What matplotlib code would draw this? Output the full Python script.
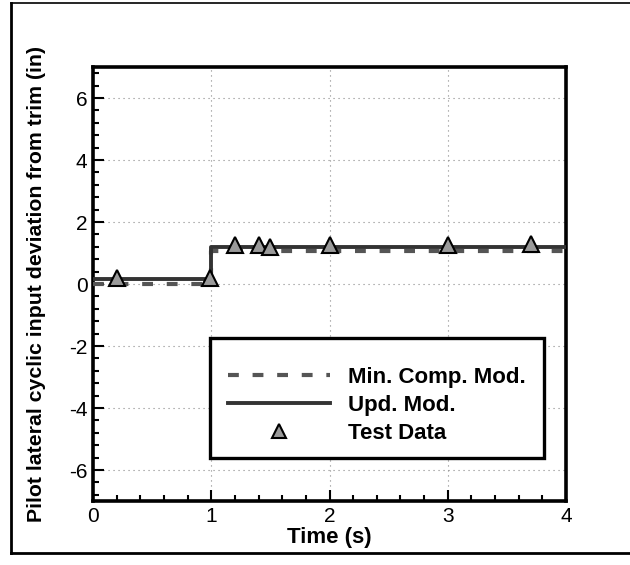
import matplotlib
matplotlib.use("Agg")
import matplotlib.pyplot as plt
from matplotlib.ticker import MultipleLocator
from matplotlib.lines import Line2D
from matplotlib.patches import Rectangle

plt.rcParams['font.family'] = ['Liberation Sans', 'DejaVu Sans']
plt.rcParams['axes.unicode_minus'] = False

# Simulated responses (step input at t = 1 s)
t_model = [0.0, 1.0, 1.0, 4.0]
min_comp = [0.0, 0.0, 1.05, 1.05]
upd_mod = [0.15, 0.15, 1.2, 1.2]

# Flight test samples
t_test = [0.2, 0.99, 1.2, 1.4, 1.5, 2.0, 3.0, 3.7]
y_test = [0.2, 0.2, 1.25, 1.25, 1.2, 1.25, 1.25, 1.3]

fig = plt.figure(figsize=(6.3, 5.65), dpi=100)
ax = fig.add_axes([93/630, 1-501/565, (566-93)/630, (501-67)/565])

ax.set_xlim(0, 4)
ax.set_ylim(-7, 7)
ax.xaxis.set_major_locator(MultipleLocator(1))
ax.xaxis.set_minor_locator(MultipleLocator(0.2))
ax.yaxis.set_major_locator(MultipleLocator(2))
ax.yaxis.set_minor_locator(MultipleLocator(0.4))
ax.tick_params(which='both', direction='in', top=False, right=False,
               labelsize=15, width=1.5)
ax.tick_params(which='major', length=8, pad=4)
ax.tick_params(which='minor', length=4)
for s in ax.spines.values():
    s.set_linewidth(2.6)

ax.grid(True, which='major', color='#888888', linestyle=(0, (1, 3.5)), lw=0.8)

dash_style = dict(color='#555555', lw=3.0, dashes=(2.6, 3.3))
solid_style = dict(color='#333333', lw=2.8)
tri_style = dict(linestyle='none', marker='^', mfc='#9a9a9a', mec='black', mew=1.5)

ax.plot(t_model, min_comp, zorder=3, **dash_style)
ax.plot(t_model, upd_mod, zorder=4, **solid_style)
ax.plot(t_test, y_test, ms=12, zorder=5, **tri_style)

ax.set_xlabel('Time (s)', fontsize=16, fontweight='bold')
ax.xaxis.set_label_coords(0.5, (501-537)/434)
ax.xaxis.label.set_va('center')
ax.set_ylabel('Pilot lateral cyclic input deviation from trim (in)',
              fontsize=15.3, fontweight='bold')
ax.yaxis.set_label_coords((37-93)/473, 0.5)
ax.yaxis.label.set_va('center')

# Legend box
ax.add_patch(Rectangle(((210-93)/473, (501-458)/434), 334/473, 120/434,
                       transform=ax.transAxes, fill=True, facecolor='white',
                       edgecolor='black', lw=2.4, zorder=6))
handles = [
    Line2D([], [], **dash_style),
    Line2D([], [], **solid_style),
    Line2D([], [], ms=10, **tri_style),
]
labels = ['Min. Comp. Mod.', 'Upd. Mod.', 'Test Data']
leg = ax.legend(handles, labels, loc='upper left',
                bbox_to_anchor=((228-93)/473, (501-367)/434),
                borderaxespad=0, borderpad=0, frameon=False,
                prop={'weight': 'bold', 'size': 16},
                handlelength=4.6, handletextpad=0.8, labelspacing=0.32)
leg.set_zorder(7)

# Outer frame around the figure
fig.add_artist(Line2D([11/630, 11/630], [1-553/565, 1-3/565],
                      transform=fig.transFigure, color='black', lw=2))
fig.add_artist(Line2D([11/630, 1.0], [1-553/565, 1-553/565],
                      transform=fig.transFigure, color='black', lw=2))
fig.add_artist(Line2D([11/630, 1.0], [1-3/565, 1-3/565],
                      transform=fig.transFigure, color='black', lw=1.2))

fig.savefig('out.png', dpi=100)
